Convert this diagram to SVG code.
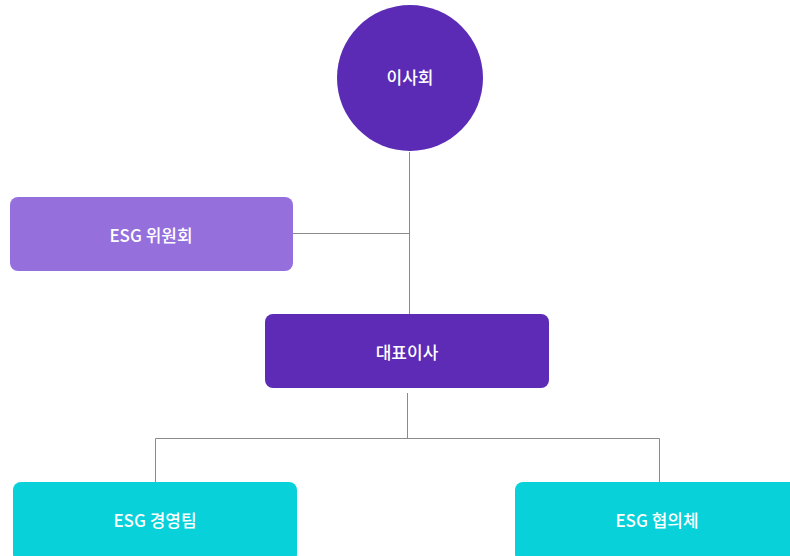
<svg xmlns="http://www.w3.org/2000/svg" width="790" height="556" viewBox="0 0 790 556">
<style>
.t{font-family:"Noto Sans CJK KR","Noto Sans",sans-serif;font-size:17px;fill:#fff;text-anchor:middle;dominant-baseline:central;font-weight:500}
.c{stroke:#8a8a8a;stroke-width:1;fill:none}
</style>
<rect width="790" height="556" fill="#fff"/>
<g id="connectors">
<path class="c" d="M409.5 152V314"/>
<path class="c" d="M293 233.5H409.5"/>
<path class="c" d="M407.5 393V438.5"/>
<path class="c" d="M155.5 482V438.5H659.5V482"/>
</g>
<g id="board">
<circle cx="410" cy="78" r="73" fill="#5B2BB5"/>
<text class="t" x="410" y="76">이사회</text>
</g>
<g id="esg-committee">
<rect x="10" y="197" width="283" height="74" rx="8" fill="#9570DD"/>
<text class="t" x="151" y="234">ESG 위원회</text>
</g>
<g id="ceo">
<rect x="265" y="314" width="284" height="74" rx="8" fill="#5D2BB6"/>
<text class="t" x="407" y="351">대표이사</text>
</g>
<g id="esg-team">
<rect x="13" y="482" width="284" height="80" rx="8" fill="#08D1D9"/>
<text class="t" x="155" y="519">ESG 경영팀</text>
</g>
<g id="esg-council">
<rect x="515" y="482" width="290" height="80" rx="8" fill="#08D1D9"/>
<text class="t" x="657" y="519">ESG 협의체</text>
</g>
</svg>
